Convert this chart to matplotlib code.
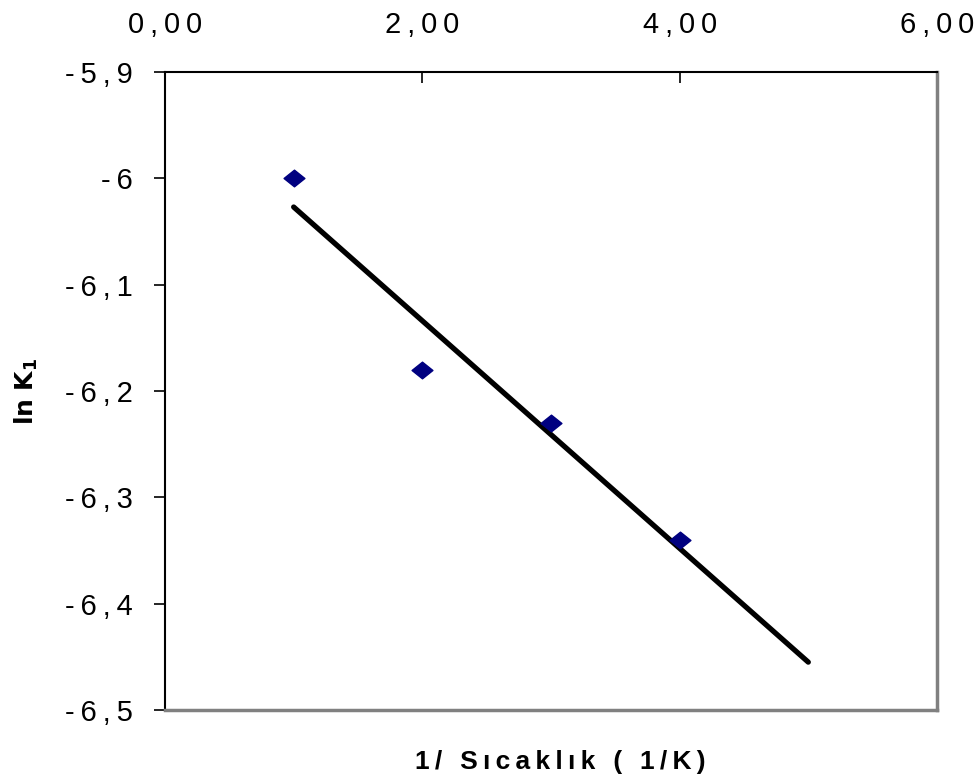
import numpy as np
import matplotlib
matplotlib.use("Agg")
import matplotlib.pyplot as plt
from matplotlib.path import Path
from matplotlib.ticker import FuncFormatter

plt.rcParams['font.family'] = ['Liberation Sans', 'DejaVu Sans']

# data
inv_temp = [1.0, 2.0, 3.0, 4.0]
ln_k1 = [-6.00, -6.18, -6.23, -6.34]
trend_x = [1.0, 5.0]   # Excel trendline extended to 5

x_ticks = [0, 2, 4, 6]
y_ticks = [-6.5, -6.4, -6.3, -6.2, -6.1, -6.0, -5.9]

slope, icpt = np.polyfit(inv_temp, ln_k1, 1)
tx = np.array(trend_x)

fig = plt.figure(figsize=(9.77, 7.84), dpi=100)
ax = fig.add_axes([0.1689, 0.0944, 0.7901, 0.8138])

ax.plot(tx, slope * tx + icpt, color='black', lw=3.8, solid_capstyle='round', zorder=2)

diamond = Path([(-1, 0), (0, 0.8), (1, 0), (0, -0.8), (-1, 0)],
               [Path.MOVETO, Path.LINETO, Path.LINETO, Path.LINETO, Path.CLOSEPOLY])
ax.plot(inv_temp, ln_k1, ls='none', marker=diamond, ms=15, color='#000080', zorder=3)

ax.set_xlim(0, 6)
ax.set_ylim(-6.5, -5.9)
ax.xaxis.tick_top()
ax.set_xticks(x_ticks)
ax.set_yticks(y_ticks)

sp = '\u2009'
def fmt_x(v, pos):
    s = f"{v:.2f}".replace('.', ',')
    return sp.join(s)
def fmt_y(v, pos):
    s = f"{v:.1f}".replace('.', ',')
    if s.endswith(',0'):
        s = s[:-2]
    return sp.join(s)
ax.xaxis.set_major_formatter(FuncFormatter(fmt_x))
ax.yaxis.set_major_formatter(FuncFormatter(fmt_y))

ax.tick_params(axis='x', direction='in', length=8, width=1.2, labelsize=21, pad=24)
ax.tick_params(axis='y', direction='out', length=8, width=1.2, labelsize=21, pad=15)

for s in ['left', 'top']:
    ax.spines[s].set_color('black')
    ax.spines[s].set_linewidth(1.5)
for s in ['right', 'bottom']:
    ax.spines[s].set_color('#808080')
    ax.spines[s].set_linewidth(2.5)

fig.text(0.573, 0.028, sp.join("1/ Sıcaklık ( 1/K)"), ha='center', va='center',
         fontsize=19, fontweight='bold')
fig.text(0.027, 0.5, r"$\mathbf{ln\ K_1}$", rotation=90, ha='center', va='center',
         fontsize=18, fontweight='bold')

fig.savefig("out.png", dpi=100)
